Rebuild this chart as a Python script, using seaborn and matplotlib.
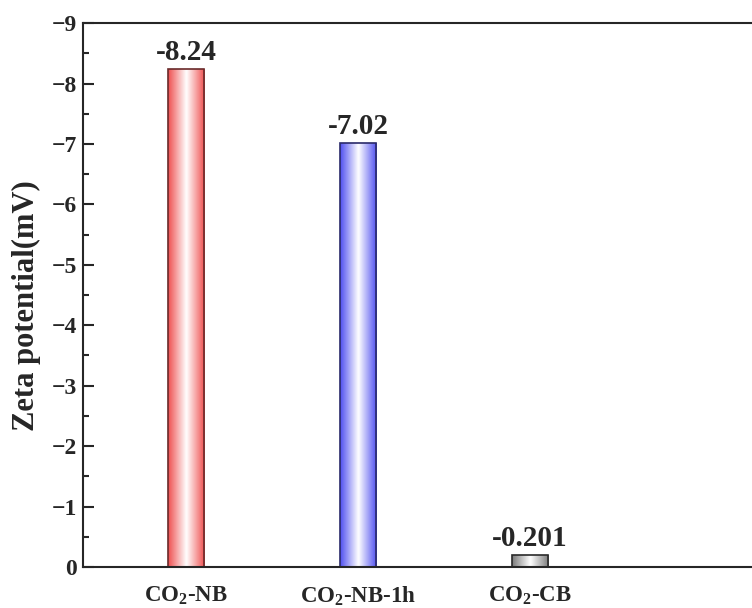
import numpy as np
import pandas as pd
import matplotlib
matplotlib.use("Agg")
import matplotlib.pyplot as plt
import seaborn as sns
from matplotlib.colors import LinearSegmentedColormap
from matplotlib.ticker import MultipleLocator

sns.set_style("ticks")
plt.rcParams['font.family'] = ['Liberation Serif', 'DejaVu Serif']
plt.rcParams['font.weight'] = 'bold'
plt.rcParams['mathtext.fontset'] = 'custom'
plt.rcParams['mathtext.rm'] = 'Liberation Serif:bold'
plt.rcParams['mathtext.bf'] = 'Liberation Serif:bold'
plt.rcParams['axes.unicode_minus'] = True

categories = ["CO2-NB", "CO2-NB-1h", "CO2-CB"]
tick_labels = [r"CO$_\mathbf{2}$-NB", r"CO$_\mathbf{2}$-NB-1h", r"CO$_\mathbf{2}$-CB"]
values = [-8.24, -7.02, -0.201]
value_labels = ["-8.24", "-7.02", "-0.201"]
edge_colors = ["#ef4f4f", "#4f4ff0", "#7a7a7a"]
outline_colors = ["#6a2a2a", "#2a2a6a", "#2a2a2a"]

df = pd.DataFrame({"cat": categories, "val": values})

fig = plt.figure(figsize=(7.52, 6.08), dpi=100)
ax = fig.add_axes([0.110, 0.0674, 0.95, 0.8946])

sns.barplot(data=df, x="cat", y="val", ax=ax, width=0.21, color="white",
            edgecolor="black", linewidth=1.2, saturation=1)

for patch, c, oc in zip(ax.patches, edge_colors, outline_colors):
    x0, y0 = patch.get_x(), patch.get_y()
    w, h = patch.get_width(), patch.get_height()
    cmap = LinearSegmentedColormap.from_list("g", [c, "white", c])
    grad = np.linspace(0, 1, 256).reshape(1, -1)
    im = ax.imshow(grad, cmap=cmap, aspect="auto",
                   extent=[x0, x0 + w, y0, y0 + h], zorder=patch.get_zorder() - 0.1,
                   interpolation="bicubic")
    im.set_clip_path(patch)
    patch.set_facecolor("none")
    patch.set_edgecolor(oc)

for i, (v, lab) in enumerate(zip(values, value_labels)):
    ax.text(i, v - 0.05, lab, ha="center", va="bottom", fontsize=21,
            fontweight="bold")

ax.set_xlim(-0.6, (752 * 1.06 - 186) / 172)
ax.set_ylim(0, -9)
ax.yaxis.set_major_locator(MultipleLocator(1))
ax.yaxis.set_minor_locator(MultipleLocator(0.5))
ax.set_xticks(range(len(categories)))
ax.set_xticklabels(tick_labels, fontsize=16.5, fontweight="bold")
ax.tick_params(axis="y", which="major", direction="in", length=8, width=1.5,
               labelsize=17, pad=4)
ax.tick_params(axis="y", which="minor", direction="in", length=4, width=1.5)
ax.tick_params(axis="x", length=0, pad=12)
for lab in ax.get_yticklabels():
    lab.set_fontweight("bold")
ax.set_xlabel("")
ax.set_ylabel("Zeta potential(mV)", fontsize=22, fontweight="bold")
ax.yaxis.set_label_coords(-0.058, 0.48)
for s in ["left", "top", "bottom"]:
    ax.spines[s].set_linewidth(1.5)
ax.spines["right"].set_visible(False)

fig.savefig("out.png", dpi=100)
